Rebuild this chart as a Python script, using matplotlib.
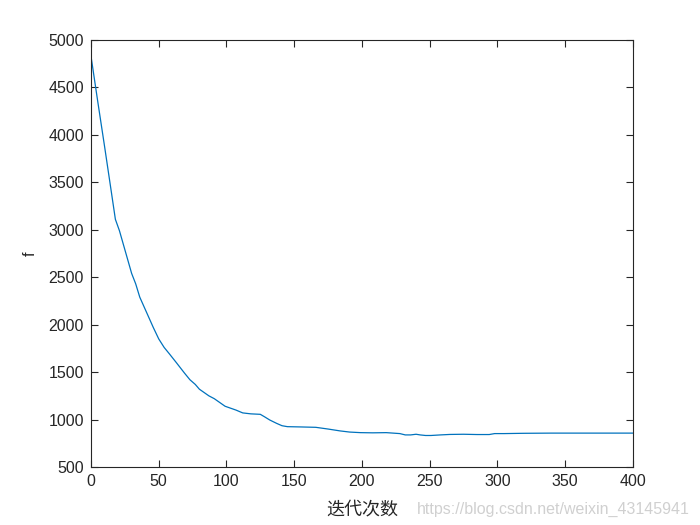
import matplotlib
matplotlib.use("Agg")
import matplotlib.pyplot as plt

iters = [0, 5, 10, 15, 18, 21, 25, 30, 33, 36, 41, 46, 50, 54, 58, 63, 69, 73, 77, 80, 83, 87, 91, 95, 99, 103, 107, 112, 118, 125, 128, 132, 137, 141, 145, 155, 166, 175, 184, 191, 199, 208, 218, 223, 228, 232, 236, 240, 243, 247, 251, 258, 265, 275, 285, 294, 298, 305, 319, 340, 360, 380, 400]
fvals = [4830, 4350, 3880, 3400, 3110, 2990, 2790, 2540, 2430, 2290, 2130, 1970, 1850, 1760, 1690, 1600, 1490, 1420, 1370, 1320, 1290, 1250, 1220, 1180, 1140, 1120, 1100, 1070, 1060, 1055, 1030, 995, 960, 935, 925, 922, 918, 900, 880, 868, 862, 860, 862, 857, 852, 838, 838, 845, 838, 832, 832, 838, 843, 845, 842, 842, 852, 852, 855, 857, 857, 857, 857]

line_color = "#0072BD"
axis_color = "#262626"

plt.rcParams['font.family'] = ['Liberation Sans', 'DejaVu Sans']

fig = plt.figure(figsize=(7, 5.25), dpi=100)
ax = fig.add_axes([0.13, 0.1105, 0.774, 0.8133])
ax.plot(iters, fvals, color=line_color, lw=0.9)
ax.set_xlim(0, 400)
ax.set_ylim(500, 5000)
ax.set_xticks(range(0, 401, 50))
ax.set_yticks(range(500, 5001, 500))
ax.tick_params(direction='in', top=True, right=True, length=5, width=0.8,
               colors=axis_color, labelsize=11.5, pad=5)
for s in ax.spines.values():
    s.set_color(axis_color)
    s.set_linewidth(0.8)
ax.set_xlabel("迭代次数", family=['Noto Sans CJK SC', 'DejaVu Sans'], fontsize=13,
              color=axis_color, labelpad=8)
ax.set_ylabel("f", fontsize=11.5, color=axis_color, labelpad=8)
fig.text(0.986, 0.015, "https://blog.csdn.net/weixin_43145941", ha='right', va='bottom',
         fontsize=11.5, color='#d0d0d0')
fig.savefig("out.png", dpi=100)
